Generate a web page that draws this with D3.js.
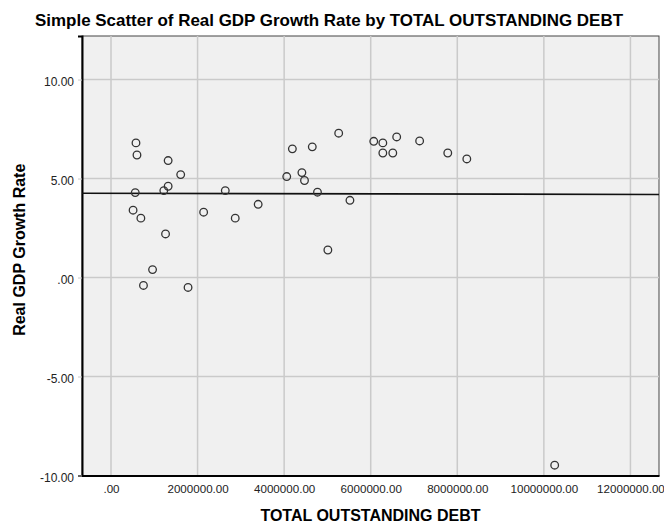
<!DOCTYPE html>
<html>
<head>
<meta charset="utf-8">
<script src="https://cdn.jsdelivr.net/npm/d3@7"></script>
<style>
  body { margin: 0; background: #ffffff; }
  svg { display: block; font-family: 'Liberation Sans', Arial, sans-serif; }
  .titulo { font-size: 16.5px; font-weight: bold; fill: #000; }
  .tituloeixo { font-size: 16px; font-weight: bold; fill: #000; }
</style>
</head>
<body>
<svg id="grafico"></svg>
<script>
//Dados
var dividaTotal = [
  577000, 600000, 1320000, 1610000, 1320000, 1220000, 560000, 2640000, 510000,
  690000, 2140000, 2870000, 3400000, 1260000, 960000, 750000, 1780000,
  4190000, 4650000, 5260000, 4060000, 4410000, 4470000, 4770000, 5520000, 5010000,
  6070000, 6280000, 6600000, 6280000, 6510000, 7130000, 7780000, 8220000,
  10250000
];
var taxaCrescimento = [
  6.80, 6.19, 5.91, 5.20, 4.61, 4.39, 4.29, 4.39, 3.40,
  3.00, 3.30, 3.00, 3.70, 2.20, 0.40, -0.40, -0.50,
  6.50, 6.60, 7.29, 5.10, 5.30, 4.90, 4.31, 3.90, 1.39,
  6.88, 6.80, 7.10, 6.29, 6.29, 6.90, 6.29, 5.99,
  -9.48
];
var ticksX = [0, 2000000, 4000000, 6000000, 8000000, 10000000, 12000000];
var ticksY = [-10, -5, 0, 5, 10];

var largura = 664, altura = 525;
var margem = { esquerda: 82, direita: 5, superior: 36, inferior: 49.5 };
var larguraPlotagem = largura - margem.esquerda - margem.direita;
var alturaPlotagem = altura - margem.superior - margem.inferior;

var svg = d3.select('#grafico')
            .attr('width', largura)
            .attr('height', altura);

//Título
svg.append('text')
   .attr('x', 329)
   .attr('y', 26)
   .style('text-anchor', 'middle')
   .attr('textLength', 588)
   .attr('lengthAdjust', 'spacingAndGlyphs')
   .text('Simple Scatter of Real GDP Growth Rate by TOTAL OUTSTANDING DEBT')
   .classed('titulo', true);

var plotagem = svg.append('g')
                  .attr('transform', 'translate(' + margem.esquerda + ',' + margem.superior + ')');

//Escalas
var x = d3.scaleLinear()
          .domain([-670000, 12660000])
          .range([0, larguraPlotagem]);
var y = d3.scaleLinear()
          .domain([-10, 12.2])
          .range([alturaPlotagem, 0]);

var formato = function(v) {
  var s = d3.format('.2f')(v);
  return s.replace(/^0\./, '.').replace('\u2212', '-');
};

//Fundo da área de plotagem
plotagem.append('rect')
        .attr('width', larguraPlotagem)
        .attr('height', alturaPlotagem)
        .attr('fill', '#f0f0f0')
        .attr('stroke', '#444')
        .attr('stroke-width', 1);

//Linhas de grade
plotagem.append('g')
        .selectAll('line')
        .data(ticksX)
        .enter()
        .append('line')
        .attr('x1', d => x(d)).attr('x2', d => x(d))
        .attr('y1', 0).attr('y2', alturaPlotagem)
        .attr('stroke', '#cacaca')
        .attr('stroke-width', 1.5);
plotagem.append('g')
        .selectAll('line')
        .data(ticksY.filter(d => d > -10))
        .enter()
        .append('line')
        .attr('x1', 0).attr('x2', larguraPlotagem)
        .attr('y1', d => y(d)).attr('y2', d => y(d))
        .attr('stroke', '#cacaca')
        .attr('stroke-width', 1.5);

//Eixos
var eixoX = d3.axisBottom(x).tickValues(ticksX).tickFormat(formato).tickSize(0).tickPadding(9);
var eixoY = d3.axisLeft(y).tickValues(ticksY).tickFormat(formato).tickSize(4).tickPadding(4);

var gx = plotagem.append('g')
                 .attr('transform', 'translate(0,' + alturaPlotagem + ')')
                 .call(eixoX);
var gy = plotagem.append('g')
                 .call(eixoY);
[gx, gy].forEach(function(g) {
  g.select('.domain').attr('stroke', '#000').attr('stroke-width', 2);
  g.selectAll('.tick line').attr('stroke', '#cacaca');
  g.selectAll('.tick text').attr('fill', '#222')
   .style('font-family', "'Liberation Sans', Arial, sans-serif").style('font-size', '12px');
});
gx.selectAll('.tick text').style('font-size', '11.6px');
gy.selectAll('.tick text').attr('dy', '0.5em');

//Reta de ajuste (mínimos quadrados)
var mx = d3.mean(dividaTotal), my = d3.mean(taxaCrescimento);
var sxy = d3.sum(dividaTotal, (d, i) => (d - mx) * (taxaCrescimento[i] - my));
var sxx = d3.sum(dividaTotal, d => (d - mx) * (d - mx));
var inclinacao = sxy / sxx;
var intercepto = my - inclinacao * mx;
var extremos = x.domain();
plotagem.append('line')
        .attr('x1', x(extremos[0])).attr('x2', x(extremos[1]))
        .attr('y1', y(intercepto + inclinacao * extremos[0]))
        .attr('y2', y(intercepto + inclinacao * extremos[1]))
        .attr('stroke', '#111')
        .attr('stroke-width', 1.6);

//Pontos
plotagem.selectAll('.ponto')
        .data(dividaTotal)
        .enter()
        .append('circle')
        .classed('ponto', true)
        .attr('cx', d => x(d))
        .attr('cy', (d, i) => y(taxaCrescimento[i]))
        .attr('r', 3.8)
        .attr('fill', 'none')
        .attr('stroke', '#333')
        .attr('stroke-width', 1.3);

//Títulos dos eixos
svg.append('text')
   .attr('x', margem.esquerda + larguraPlotagem / 2)
   .attr('y', 521)
   .style('text-anchor', 'middle')
   .text('TOTAL OUTSTANDING DEBT')
   .classed('tituloeixo', true);
svg.append('text')
   .attr('transform', 'translate(25,' + (margem.superior + alturaPlotagem / 2 - 6) + ') rotate(-90)')
   .style('text-anchor', 'middle')
   .text('Real GDP Growth Rate')
   .classed('tituloeixo', true);
</script>
</body>
</html>
